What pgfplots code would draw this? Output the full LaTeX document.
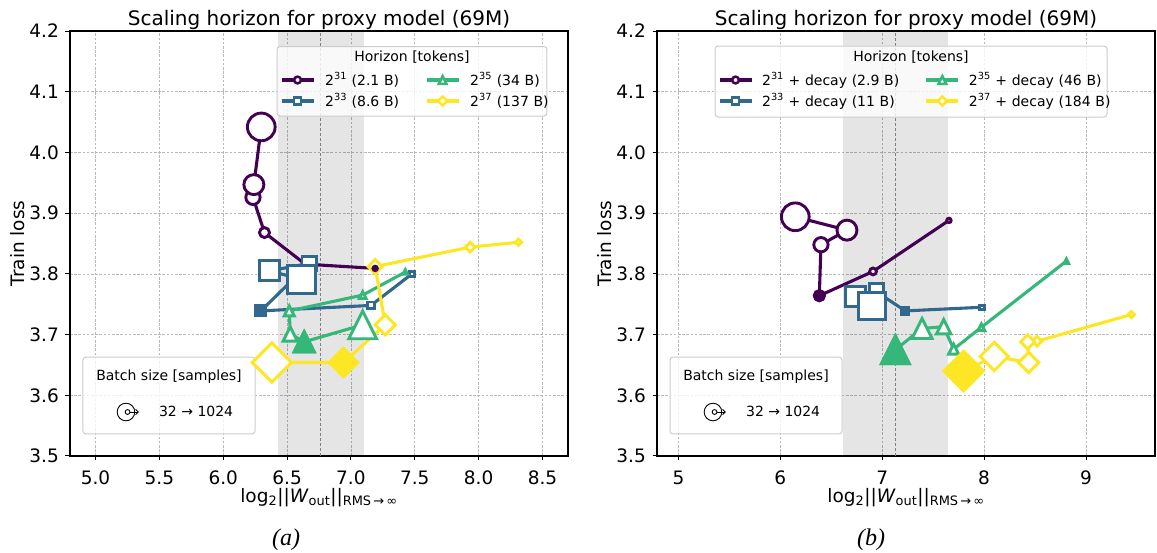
\documentclass[border=0pt]{standalone}
\usepackage{fontspec}
\setmainfont{DejaVu Sans}
\newfontfamily\capfont{Liberation Serif}
\usepackage{pgfplots}
\pgfplotsset{compat=1.18}
\usepackage{pgfplotstable}

\definecolor{vpurp}{HTML}{440154}
\definecolor{vblue}{HTML}{31688E}
\definecolor{vgreen}{HTML}{35B779}
\definecolor{vyel}{HTML}{FDE725}

% triangle and diamond marks whose half-size equals the mark size
\pgfdeclareplotmark{mtri}{%
  \pgfpathmoveto{\pgfqpoint{0pt}{\pgfplotmarksize}}%
  \pgfpathlineto{\pgfqpoint{\pgfplotmarksize}{-\pgfplotmarksize}}%
  \pgfpathlineto{\pgfqpoint{-\pgfplotmarksize}{-\pgfplotmarksize}}%
  \pgfpathclose
  \pgfusepathqfillstroke}
\pgfdeclareplotmark{mdia}{%
  \pgfpathmoveto{\pgfqpoint{0pt}{1.414\pgfplotmarksize}}%
  \pgfpathlineto{\pgfqpoint{1.414\pgfplotmarksize}{0pt}}%
  \pgfpathlineto{\pgfqpoint{0pt}{-1.414\pgfplotmarksize}}%
  \pgfpathlineto{\pgfqpoint{-1.414\pgfplotmarksize}{0pt}}%
  \pgfpathclose
  \pgfusepathqfillstroke}

% columns: x = log2 ||W_out||, y = train loss, r = marker half-size (grows with batch size 32 -> 1024), f = 1 for the best run
% (a) constant-LR horizons
\pgfplotstableread{
x y r f
7.190 3.809 2.2 1
6.642 3.816 3.4 0
6.323 3.868 5.0 0
6.233 3.926 7.15 0
6.240 3.947 10.0 0
6.298 4.042 13.85 0
}\tabAa
\pgfplotstableread{
x y r f
7.478 3.800 2.2 0
7.157 3.748 3.4 0
6.295 3.739 5.0 1
6.673 3.817 7.15 0
6.363 3.805 10.0 0
6.611 3.791 13.85 0
}\tabAb
\pgfplotstableread{
x y r f
7.426 3.803 2.2 0
7.092 3.765 3.4 0
6.517 3.739 5.0 0
6.525 3.701 7.15 0
6.634 3.688 10.0 1
7.092 3.716 13.85 0
}\tabAc
\pgfplotstableread{
x y r f
8.312 3.852 2.2 0
7.934 3.844 3.4 0
7.190 3.812 5.0 0
7.269 3.716 7.15 0
6.942 3.654 10.0 1
6.381 3.654 13.85 0
}\tabAd
% (b) horizons with decay
\pgfplotstableread{
x y r f
7.655 3.888 2.2 0
6.910 3.804 3.4 0
6.383 3.764 5.0 1
6.399 3.848 7.15 0
6.654 3.872 10.0 0
6.147 3.894 13.85 0
}\tabBa
\pgfplotstableread{
x y r f
7.979 3.745 2.2 0
7.227 3.739 3.4 1
6.965 3.768 5.0 0
6.942 3.772 7.15 0
6.736 3.763 10.0 0
6.900 3.747 13.85 0
}\tabBb
\pgfplotstableread{
x y r f
8.807 3.821 2.2 0
7.973 3.712 3.4 0
7.701 3.676 5.0 0
7.603 3.713 7.15 0
7.391 3.710 10.0 0
7.129 3.675 13.85 1
}\tabBc
\pgfplotstableread{
x y r f
9.445 3.733 2.2 0
8.519 3.689 3.4 0
8.427 3.688 5.0 0
8.437 3.654 7.15 0
8.100 3.664 10.0 0
7.799 3.640 13.85 1
}\tabBd

\tikzset{lg/.style={text width=#1, text height=15.5pt, text depth=5.5pt, inner sep=0pt}}

\pgfplotsset{
  series/.style n args={2}{%
    forget plot, scatter, point meta=\thisrow{f},
    draw=#1, line width=3.1pt, line join=round,
    mark=#2, mark options={solid, line join=miter, line width=2.9pt},
    scatter/use mapped color={draw=#1, fill=white},
    visualization depends on={\thisrow{r} \as \mr},
    scatter/@pre marker code/.append style={/tikz/mark size=\mr},
  },
  best/.style n args={2}{%
    forget plot, only marks, scatter, point meta=\thisrow{f},
    line width=2.9pt,
    mark=#2, mark options={solid, line join=miter, line width=2.9pt},
    scatter/use mapped color={draw=#1, fill=#1},
    visualization depends on={\thisrow{r} \as \mr},
    scatter/@pre marker code/.append style={/tikz/mark size=\mr},
    restrict expr to domain={\thisrow{f}}{0.5:1.5},
  },
  panel/.style={
    scale only axis, width=498pt, height=425pt,
    ymin=3.5, ymax=4.2, ytick={3.5,3.6,3.7,3.8,3.9,4.0,4.1,4.2},
    point meta min=0, point meta max=2,
    grid=major,
    grid style={dash pattern=on 2.6pt off 1.6pt, black!28, line width=0.7pt},
    axis line style={line width=1.1pt},
    tick align=outside, tick pos=left, major tick length=4.5pt,
    tick style={black, line width=1pt},
    /pgf/number format/assume math mode=true,
    tick label style={font=\fontsize{18.5}{22}\selectfont},
    yticklabel style={/pgf/number format/fixed, /pgf/number format/fixed zerofill,
      /pgf/number format/precision=1, anchor=east, inner sep=0pt, xshift=-6.5pt},
    xticklabel style={anchor=base, inner sep=0pt, yshift=-24pt},
    every axis title/.style={at={(axis description cs:0.5,1)}, anchor=base, yshift=6pt,
      font=\fontsize{20}{24}\selectfont},
    every axis x label/.style={at={(axis description cs:0.5,0)}, anchor=base, yshift=-46pt,
      font=\fontsize{18.5}{22}\selectfont},
    every axis y label/.style={at={(axis description cs:-0.0904,0.5)}, rotate=90, anchor=base,
      font=\fontsize{18.5}{22}\selectfont},
    title={Scaling horizon for proxy model (69M)},
    xlabel={log\textsubscript{2}||\textit{W}\textsubscript{out}||\textsubscript{RMS\,→\,∞}},
    ylabel={Train loss},
    legend columns=2, transpose legend, legend cell align=left,
    legend image code/.code={\draw[mark repeat=2, mark phase=2, ##1]
      plot coordinates {(0pt,0pt) (16pt,0pt) (32pt,0pt)};},
  },
  lgA/.style={vpurp, line width=3.1pt, mark=*, mark size=3.4pt, mark options={fill=white, solid, line width=2.5pt}},
  lgB/.style={vblue, line width=3.1pt, mark=square*, mark size=3.4pt, mark options={fill=white, solid, line width=2.5pt}},
  lgC/.style={vgreen, line width=3.1pt, mark=mtri, mark size=3.8pt, mark options={fill=white, solid, line width=2.5pt}},
  lgD/.style={vyel, line width=3.1pt, mark=mdia, mark size=3.2pt, mark options={fill=white, solid, line width=2.5pt}},
}

% box with the batch-size key in the lower left corner
\newcommand{\batchkey}{%
  \draw[black!20, line width=1pt, fill=white, fill opacity=0.8, rounded corners=3pt]
    (axis description cs:0.0261,0.0518) rectangle (axis description cs:0.3715,0.2329);
  \node[anchor=base, font=\fontsize{14}{16}\selectfont] at (axis description cs:0.1988,0.1776) {Batch size [samples]};
  \draw[line width=0.9pt] (axis description cs:0.1124,0.1035) circle[radius=8.8pt];
  \draw[line width=0.9pt] ([xshift=1.6pt]axis description cs:0.1124,0.1035) circle[radius=2.4pt];
  \draw[line width=0.9pt] ([xshift=4pt]axis description cs:0.1124,0.1035) -- ++(8pt,0pt);
  \draw[line width=0.9pt] ([xshift=9.6pt,yshift=2.6pt]axis description cs:0.1124,0.1035) -- ++(2.6pt,-2.6pt) -- ++(-2.6pt,-2.6pt);
  \node[anchor=base west, inner sep=0pt, font=\fontsize{14}{16}\selectfont] at (axis description cs:0.1785,0.0918) {32 → 1024};
}

\begin{document}
\begin{tikzpicture}
\useasboundingbox (0pt,0pt) rectangle (1157pt,552pt);

% ---------------- (a) ----------------
\begin{axis}[panel, at={(70pt,96pt)}, anchor=south west,
  xmin=4.8, xmax=8.7, xtick={5,5.5,6,6.5,7,7.5,8,8.5},
  xticklabel style={/pgf/number format/fixed, /pgf/number format/fixed zerofill, /pgf/number format/precision=1},
  legend style={at={(axis description cs:0.4217,0.9094)}, anchor=north west,
    draw=none, fill=none, inner sep=0pt, outer sep=0pt,
    column sep=10pt, row sep=0pt, font=\fontsize{14}{16}\selectfont},
]
\fill[black, fill opacity=0.1] (axis cs:6.425,3.5) rectangle (axis cs:7.10,4.2);
\draw[black!50, dash pattern=on 3pt off 2pt, line width=0.9pt] (axis cs:6.76,3.5) -- (axis cs:6.76,4.2);

\addlegendimage{lgA}\addlegendentry[lg=90pt]{2\textsuperscript{31} (2.1 B)}
\addlegendimage{lgB}\addlegendentry[lg=90pt]{2\textsuperscript{33} (8.6 B)}
\addlegendimage{lgC}\addlegendentry[lg=90pt]{2\textsuperscript{35} (34 B)}
\addlegendimage{lgD}\addlegendentry[lg=90pt]{2\textsuperscript{37} (137 B)}

\addplot[series={vpurp}{*}] table {\tabAa};
\addplot[series={vblue}{square*}] table {\tabAb};
\addplot[series={vgreen}{mtri}] table {\tabAc};
\addplot[series={vyel}{mdia}] table {\tabAd};
\addplot[best={vpurp}{*}] table {\tabAa};
\addplot[best={vblue}{square*}] table {\tabAb};
\addplot[best={vgreen}{mtri}] table {\tabAc};
\addplot[best={vyel}{mdia}] table {\tabAd};

\draw[black!20, line width=1pt, fill=white, fill opacity=0.8, rounded corners=3pt]
  (axis description cs:0.4157,0.8) rectangle (axis description cs:0.9578,0.9635);
\node[anchor=base, font=\fontsize{14}{16}\selectfont] at (axis description cs:0.6867,0.9294) {Horizon [tokens]};
\batchkey
\end{axis}

% ---------------- (b) ----------------
\begin{axis}[panel, at={(657pt,96pt)}, anchor=south west,
  xmin=4.79, xmax=9.677, xtick={5,6,7,8,9},
  legend style={at={(axis description cs:0.1225,0.9094)}, anchor=north west,
    draw=none, fill=none, inner sep=0pt, outer sep=0pt,
    column sep=9pt, row sep=0pt, font=\fontsize{14}{16}\selectfont},
]
\fill[black, fill opacity=0.1] (axis cs:6.618,3.5) rectangle (axis cs:7.641,4.2);
\draw[black!50, dash pattern=on 3pt off 2pt, line width=0.9pt] (axis cs:7.13,3.5) -- (axis cs:7.13,4.2);

\addlegendimage{lgA}\addlegendentry[lg=153.7pt]{2\textsuperscript{31} + decay (2.9 B)}
\addlegendimage{lgB}\addlegendentry[lg=153.7pt]{2\textsuperscript{33} + decay (11 B)}
\addlegendimage{lgC}\addlegendentry[lg=153.7pt]{2\textsuperscript{35} + decay (46 B)}
\addlegendimage{lgD}\addlegendentry[lg=153.7pt]{2\textsuperscript{37} + decay (184 B)}

\addplot[series={vpurp}{*}] table {\tabBa};
\addplot[series={vblue}{square*}] table {\tabBb};
\addplot[series={vgreen}{mtri}] table {\tabBc};
\addplot[series={vyel}{mdia}] table {\tabBd};
\addplot[best={vpurp}{*}] table {\tabBa};
\addplot[best={vblue}{square*}] table {\tabBb};
\addplot[best={vgreen}{mtri}] table {\tabBc};
\addplot[best={vyel}{mdia}] table {\tabBd};

\draw[black!20, line width=1pt, fill=white, fill opacity=0.8, rounded corners=3pt]
  (axis description cs:0.1165,0.7976) rectangle (axis description cs:0.9036,0.9647);
\node[anchor=base, font=\fontsize{14}{16}\selectfont] at (axis description cs:0.51,0.9294) {Horizon [tokens]};
\batchkey
\end{axis}

\node[anchor=base, font=\capfont\itshape\fontsize{24}{28}\selectfont] at (286pt,7pt) {(a)};
\node[anchor=base, font=\capfont\itshape\fontsize{24}{28}\selectfont] at (871pt,7pt) {(b)};
\end{tikzpicture}
\end{document}
